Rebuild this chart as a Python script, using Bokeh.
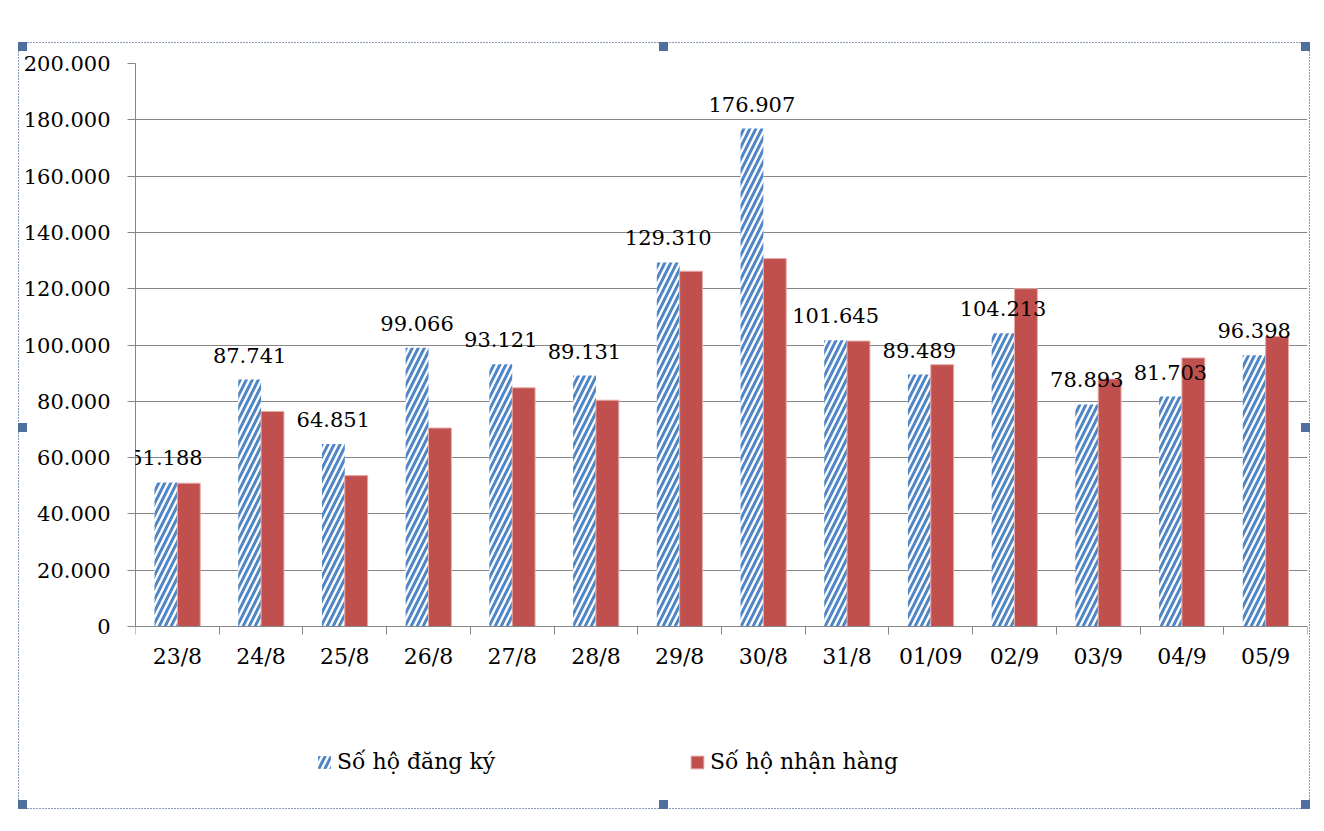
from bokeh.plotting import figure
from bokeh.models import (Range1d, FixedTicker, ColumnDataSource, LabelSet,
                          Legend, LegendItem)
from bokeh.core.properties import value
from bokeh.transform import dodge
from bokeh.embed import file_html
from bokeh.resources import INLINE

# ---------------- data ----------------
categories = ["23/8", "24/8", "25/8", "26/8", "27/8", "28/8", "29/8",
              "30/8", "31/8", "01/09", "02/9", "03/9", "04/9", "05/9"]
registered = [51188, 87741, 64851, 99066, 93121, 89131, 129310,
              176907, 101645, 89489, 104213, 78893, 81703, 96398]
registered_labels = ["51.188", "87.741", "64.851", "99.066", "93.121", "89.131", "129.310",
                     "176.907", "101.645", "89.489", "104.213", "78.893", "81.703", "96.398"]
received = [50900, 76400, 53600, 70500, 84800, 80400, 126200,
            130700, 101400, 93000, 120000, 87900, 95400, 103000]
y_ticks = [0, 20000, 40000, 60000, 80000, 100000, 120000, 140000, 160000, 180000, 200000]
y_tick_labels = ["0", "20.000", "40.000", "60.000", "80.000", "100.000",
                 "120.000", "140.000", "160.000", "180.000", "200.000"]
series_names = ["Số hộ đăng ký", "Số hộ nhận hàng"]

FONT = "DejaVu Serif"
GRAY = "#868686"
BLUE = "#4f86c6"
RED = "#c0504d"

xpos = [i + 0.5 for i in range(len(categories))]
src = ColumnDataSource(data=dict(x=xpos, cat=categories, reg=registered,
                                 rec=received, lbl=registered_labels))

# decorative outer dashed frame with selection handles (CSS background of the plot element)
BC = "#8a9ab5"
HC = "#4f6f9f"
hline = f"repeating-linear-gradient(to right, {BC} 0px, {BC} 2px, transparent 2px, transparent 3px)"
vline = f"repeating-linear-gradient(to bottom, {BC} 0px, {BC} 2px, transparent 2px, transparent 3px)"
solid = f"linear-gradient({HC}, {HC})"
handles = [(18, 42), (659, 42), (1301, 42), (18, 423), (1301, 423),
           (18, 800), (659, 800), (1301, 800)]
layers = [(solid, "9px 9px", f"{hx}px {hy}px") for hx, hy in handles]
layers += [(hline, "1291px 1px", "18px 42px"), (hline, "1291px 1px", "18px 808px"),
           (vline, "1px 766px", "18px 42px"), (vline, "1px 767px", "1309px 42px")]
css = {
    "background-color": "white",
    "background-image": ", ".join(l[0] for l in layers),
    "background-size": ", ".join(l[1] for l in layers),
    "background-position": ", ".join(l[2] for l in layers),
    "background-repeat": "no-repeat",
}

# layout (pixels): plot area from y=63 (200.000) to y=626 (0); frame extends lower to hold the legend
W, H = 1316, 831
TOP, ZERO, BOTTOM_BORDER = 63, 626, 56
FRAME_BOTTOM = H - BOTTOM_BORDER
Y_MAX = 200000
Y_MIN = -Y_MAX * (FRAME_BOTTOM - ZERO) / (ZERO - TOP)

p = figure(width=W, height=H, output_backend="svg", toolbar_location=None,
           x_range=Range1d(0, len(categories)), y_range=Range1d(Y_MIN, Y_MAX),
           min_border_left=135, min_border_right=W - 1307, min_border_top=TOP,
           min_border_bottom=BOTTOM_BORDER,
           background_fill_alpha=0, border_fill_alpha=0, styles=css)
p.outline_line_color = None

BW = 0.273
OFF = BW / 2
r_reg = p.vbar(x=dodge("x", -OFF, range=p.x_range), top="reg", width=BW, source=src,
               fill_color="white", line_color=None,
               hatch_pattern="/", hatch_color=BLUE, hatch_scale=12, hatch_weight=3)
r_rec = p.vbar(x=dodge("x", OFF, range=p.x_range), top="rec", width=BW, source=src,
               fill_color=RED, line_color="#e3aaa8", line_width=1)

labels = LabelSet(x=dodge("x", -OFF, range=p.x_range), y="reg", text="lbl", source=src,
                  text_align="center", text_baseline="alphabetic", y_offset=17,
                  text_font=value(FONT), text_font_size="21px", text_color="black")
p.add_layout(labels)

# y axis
yt = FixedTicker(ticks=y_ticks, minor_ticks=[])
p.yaxis.ticker = yt
p.ygrid.ticker = yt
p.yaxis.bounds = (0, Y_MAX)
p.yaxis.major_label_overrides = dict(zip(y_ticks, y_tick_labels))
p.yaxis.axis_line_color = GRAY
p.yaxis.major_tick_line_color = GRAY
p.yaxis.major_tick_out = 8
p.yaxis.major_tick_in = 0
p.yaxis.minor_tick_line_color = None
p.yaxis.major_label_standoff = 17
p.yaxis.major_label_text_font = FONT
p.yaxis.major_label_text_font_size = "21px"
p.yaxis.major_label_text_color = "black"
p.ygrid.grid_line_color = GRAY
p.xgrid.visible = False

# x axis, drawn at y = 0
xt = FixedTicker(ticks=xpos, minor_ticks=list(range(len(categories) + 1)))
p.xaxis.ticker = xt
p.xaxis.fixed_location = 0
p.xaxis.major_label_overrides = dict(zip(xpos, categories))
p.xaxis.axis_line_color = GRAY
p.xaxis.major_tick_line_color = None
p.xaxis.major_tick_out = 0
p.xaxis.major_tick_in = 0
p.xaxis.minor_tick_line_color = GRAY
p.xaxis.minor_tick_out = 8
p.xaxis.minor_tick_in = 0
p.xaxis.major_label_standoff = 9
p.xaxis.major_label_text_font = FONT
p.xaxis.major_label_text_font_size = "22px"
p.xaxis.major_label_text_color = "black"

# legends (one per item)
for rend, name, loc in [(r_reg, series_names[0], (181, 1)),
                        (r_rec, series_names[1], (554, 1))]:
    lg = Legend(items=[LegendItem(label=name, renderers=[rend])], location=loc,
                orientation="horizontal", padding=0, margin=0, spacing=0,
                glyph_width=16, glyph_height=16, label_standoff=5,
                border_line_color=None, background_fill_alpha=0,
                label_text_font=FONT, label_text_font_size="22px",
                label_text_color="black")
    p.add_layout(lg)

open("out.html", "w").write(file_html(p, INLINE))
